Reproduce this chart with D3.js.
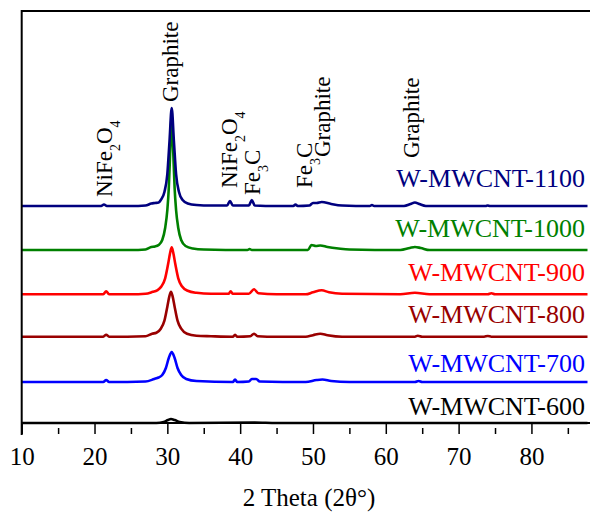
<!DOCTYPE html>
<html>
<head>
<meta charset="utf-8">
<script src="https://cdnjs.cloudflare.com/ajax/libs/d3/7.8.5/d3.min.js"></script>
<style>
  body { margin: 0; background: #fff; }
  svg text { font-family: "Liberation Serif", "DejaVu Serif", serif; }
</style>
</head>
<body>
<div id="diffracto"></div>
<script>
//----------------------------------------------------------------
//  Données (2θ, intensité a.u.)
//----------------------------------------------------------------
var echantillons = ["W-MWCNT-600", "W-MWCNT-700", "W-MWCNT-800",
                    "W-MWCNT-900", "W-MWCNT-1000", "W-MWCNT-1100"];

// décalage vertical de chaque courbe
var decalages = [0, 41, 86.3, 128.7, 173, 217];

var pts600 = [[10,0],[20,0],[28.5,0],[29.5,1],[30.1,3],[30.5,4],[31.0,3],[31.7,1],
              [33,0],[42,0.5],[45,0],[87.7,0]];

var pts700 = [[10,0],[21.2,0],[21.6,2],[22,0],[27,0.5],[28.2,3],[28.8,4.5],[29.3,7],
              [29.8,14],[30.2,24],[30.6,30],[31.0,24],[31.4,14],[31.9,7],[32.6,3],[34,1],
              [39,0],[39.3,2.5],[39.6,0],[41.2,0.5],[41.6,3],[42.2,3],[42.7,0.5],[49,0],
              [50.5,2],[51.3,2.5],[52.5,1],[55,0],[64,0],[64.5,1],[65,0],[87.7,0]];

var pts800 = [[10,0],[21.2,0],[21.6,2],[22,0],[27,0.5],[27.9,3],[28.5,4],[29.1,8],
              [29.6,16],[30.0,30],[30.3,41],[30.5,45],[30.7,41],[31.0,30],[31.4,16],
              [31.9,8],[32.7,3],[34,1],[36,0.5],[39,0],[39.3,2],[39.6,0],[41.4,0.5],
              [41.9,3],[42.4,0.5],[45,0],[49,0],[50,1.5],[51,3],[52,1.5],[54,0],
              [64,0],[64.4,1],[65,0],[73.5,0],[74,0.7],[74.5,0],[87.7,0]];

var pts900 = [[10,0],[21.2,0],[21.6,3],[22,0],[25,0],[27,0.5],[28,2.5],[28.6,4],
              [29.2,8],[29.7,16],[30.1,30],[30.4,42],[30.6,47],[30.8,42],[31.1,30],
              [31.5,16],[32.0,8],[32.8,3.5],[34,1.5],[36,0.5],[38.4,0.5],[38.7,3],
              [39.0,0.5],[41.2,0.5],[41.9,5],[42.5,1],[45,0],[49,0],[50,2],[51.2,4],
              [52.2,2],[54,0.5],[62,0],[64,1.5],[66,0],[74,0],[74.5,1],[75,0],[87.7,0]];

var pts1000 = [[10,0],[20,0],[25,0],[27,0.5],[27.8,3],[28.3,3.5],[28.8,5],[29.3,10],
               [29.7,22],[30.0,40],[30.2,62],[30.4,100],[30.6,135],[30.8,100],[31.0,62],
               [31.2,40],[31.5,22],[31.9,10],[32.5,4],[33.5,1.5],[35,0.5],[41.0,0],
               [41.3,1],[41.6,0],[47,0],[49.3,0],[49.8,5],[50.4,4],[51.0,4.5],[52,3],
               [53.5,1.5],[55,0.5],[62,0],[63.3,2],[64,3],[64.8,2],[66,0],[87.7,0]];

var pts1100 = [[10,0],[20.9,0],[21.3,1.5],[21.7,0],[25,0],[27,0.5],[27.8,2.5],[28.3,3],
               [28.8,3.5],[29.1,6],[29.6,14],[30.0,32],[30.3,65],[30.6,98],[30.9,65],
               [31.2,32],[31.6,14],[32.1,6],[32.8,2.5],[34,1],[36,0.5],[38.2,0.5],
               [38.6,5],[39.0,0.5],[41.2,0.5],[41.6,6],[42.0,0.5],[45,0],[47.3,0],
               [47.6,1.5],[47.9,0],[49.5,0.5],[50.0,3],[50.5,3],[51.2,4],[52.5,2],
               [54,0.5],[57.8,0],[58.1,1],[58.4,0],[62.5,0],[63.4,2],[64,3.5],[64.6,2],
               [65.5,0],[73.7,0],[74,0.5],[74.3,0],[87.7,0]];

var series = [pts600, pts700, pts800, pts900, pts1000, pts1100];

// annotations des phases : texte, 2θ, intensité du pied du texte
var phases   = ["NiFe_2O_4", "Graphite", "NiFe_2O_4", "Fe_3C", "Fe_3C", "Graphite", "Graphite"];
var phases2t = [22.4, 31.45, 39.5, 42.7, 49.8, 52.3, 64.6];
var phasesI  = [226, 321, 235, 228, 235, 266, 265];

var ticksMajeurs = [10, 20, 30, 40, 50, 60, 70, 80];
var ticksMineurs = [15, 25, 35, 45, 55, 65, 75, 85];

//----------------------------------------------------------------
//  Styles
//----------------------------------------------------------------
var couleurs = ["#000000", "#0000ff", "#990000", "#ff0000", "#008000", "#00007f"];
var ecartEtiquette = [8, 10, 13.5, 13.5, 13.5, 19];

largeurSvg = 590; hauteurSvg = 516;
var bord = {gauche: 21.7, droite: 590, haut: 11, bas: 423};

var svg = d3.select("#diffracto").append("svg")
    .attr("width", largeurSvg)
    .attr("height", hauteurSvg);

var x = d3.scaleLinear().domain([10, 87.7]).range([bord.gauche, 587.5]);
var y = d3.scaleLinear().domain([0, 412]).range([bord.bas, bord.haut]);

//----------------------------------------------------------------
//  Courbes
//----------------------------------------------------------------
series.forEach(function(pts, i) {
    var ligne = d3.line()
        .x(function(d) { return x(d[0]); })
        .y(function(d) { return y(d[1] + decalages[i]); })
        .curve(d3.curveMonotoneX);

    svg.append("path")
        .datum(pts)
        .attr("fill", "none")
        .attr("stroke", couleurs[i])
        .attr("stroke-width", 2.6)
        .attr("stroke-linejoin", "round")
        .attr("d", ligne);

    svg.append("text")
        .attr("x", 585)
        .attr("y", y(decalages[i]) - ecartEtiquette[i])
        .attr("text-anchor", "end")
        .style("font-size", "26px")
        .attr("fill", couleurs[i])
        .text(echantillons[i]);
});

//----------------------------------------------------------------
//  Cadre et axes
//----------------------------------------------------------------
svg.append("line")
    .attr("x1", bord.gauche).attr("x2", largeurSvg)
    .attr("y1", bord.haut).attr("y2", bord.haut)
    .attr("stroke", "#000").attr("stroke-width", 2);

svg.append("line")
    .attr("x1", bord.gauche).attr("x2", bord.gauche)
    .attr("y1", bord.haut - 1).attr("y2", 435)
    .attr("stroke", "#000").attr("stroke-width", 2);

svg.append("line")
    .attr("x1", bord.gauche).attr("x2", largeurSvg)
    .attr("y1", bord.bas).attr("y2", bord.bas)
    .attr("stroke", "#000").attr("stroke-width", 2);

var axeX = svg.append("g")
    .attr("transform", "translate(0,434)")
    .call(d3.axisBottom(x).tickValues(ticksMajeurs).tickSize(-11).tickPadding(13)
          .tickFormat(d3.format("d")));
axeX.attr("font-family", null).attr("font-size", null);
axeX.select(".domain").remove();
axeX.selectAll("line").attr("stroke-width", 1.5);
axeX.selectAll("text")
    .style("font-size", "25px")
    .attr("fill", "#000");

var axeMin = svg.append("g")
    .attr("transform", "translate(0,434)")
    .call(d3.axisBottom(x).tickValues(ticksMineurs).tickSize(-6).tickFormat(""));
axeMin.select(".domain").remove();
axeMin.selectAll("text").remove();
axeMin.selectAll("line").attr("stroke-width", 1.5);

svg.append("text")
    .attr("x", 309)
    .attr("y", 506)
    .attr("text-anchor", "middle")
    .style("font-size", "25px")
    .text("2 Theta (2θ°)");

//----------------------------------------------------------------
//  Annotations verticales avec indices
//----------------------------------------------------------------
phases.forEach(function(p, i) {
    var t = svg.append("text")
        .attr("transform", "translate(" + x(phases2t[i]) + "," + y(phasesI[i]) + ") rotate(-90)")
        .style("font-size", "23px");
    var morceaux = p.split(/(_\d)/).filter(function(m) { return m !== ""; });
    var decale = 0;
    morceaux.forEach(function(m) {
        if (m[0] === "_") {
            t.append("tspan").style("font-size", "14px").attr("dy", 8).text(m.slice(1));
            decale = -8;
        } else {
            t.append("tspan").attr("dy", decale).text(m);
            decale = 0;
        }
    });
});
</script>
</body>
</html>
